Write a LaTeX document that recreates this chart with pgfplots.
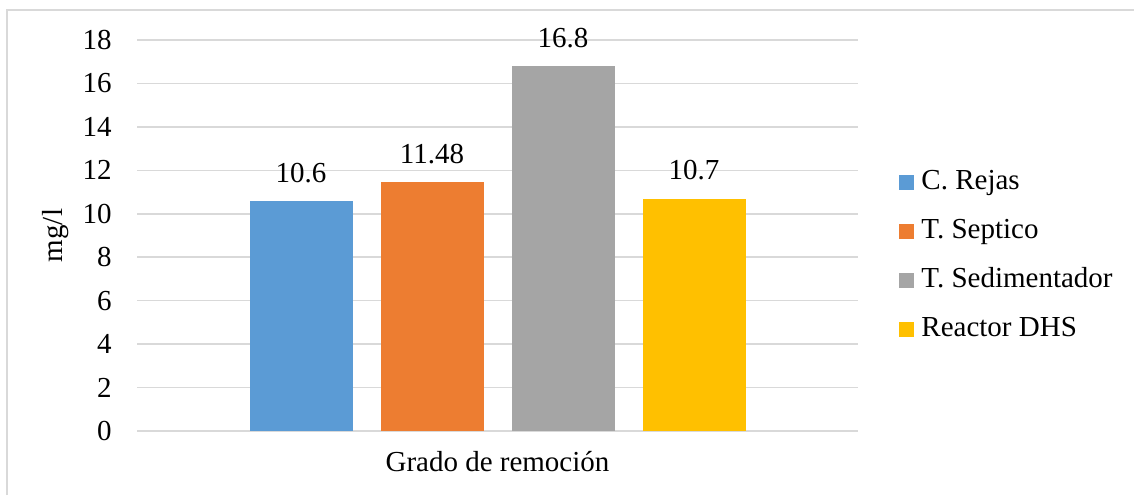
\documentclass[border=0pt]{standalone}
\usepackage{pgfplots}
\pgfplotsset{compat=1.18}
\usepackage{fontspec}
\IfFontExistsTF{LiberationSerif-Regular.ttf}
  {\setmainfont{LiberationSerif-Regular.ttf}[BoldFont=LiberationSerif-Bold.ttf]}
  {\setmainfont{Liberation Serif}}

\definecolor{cblue}{HTML}{5B9BD5}
\definecolor{corange}{HTML}{ED7D31}
\definecolor{cgray}{HTML}{A5A5A5}
\definecolor{cyellow}{HTML}{FFC000}
\definecolor{gridgray}{HTML}{D9D9D9}

\begin{document}
\begin{tikzpicture}[font=\rmfamily\fontsize{14.5}{17}\selectfont]
% page extent and outer frame
\path[use as bounding box] (0,0) rectangle (567pt,247.5pt);
\draw[gridgray, line width=1pt] (3.5pt,0pt) -- (3.5pt,242.5pt) -- (567pt,242.5pt);

\begin{axis}[
  at={(68.5pt,32pt)}, anchor=south west,
  scale only axis,
  width=360.5pt, height=195.5pt,
  ybar=14pt, bar width=51.5pt,
  xmin=-0.5, xmax=0.5,
  ymin=0, ymax=18,
  xtick={0}, xticklabels={Grado de remoción},
  ytick={0,2,...,18},
  ymajorgrids,
  grid style={gridgray, line width=0.75pt},
  axis line style={draw=none},
  tick style={draw=none},
  /pgf/number format/assume math mode=true,
  yticklabel style={inner sep=0pt, xshift=-12.5pt},
  xticklabel style={inner sep=0pt, anchor=north, yshift=-5.5pt},
  ylabel={mg/l},
  ylabel style={at={(axis description cs:-0.094,0.5)}, anchor=south, inner sep=0pt},
  nodes near coords,
  every node near coord/.append style={anchor=south, inner sep=0pt, yshift=8.9pt, text=black},
  legend cell align=left,
  legend image code/.code={\fill[#1] (0pt,-3.75pt) rectangle (7.5pt,3.75pt);},
  legend style={
    draw=none, fill=none,
    at={(axis description cs:1.0486,0.4476)}, anchor=west,
    row sep=11.5pt,
    nodes={inner sep=0pt, text height=10pt, text depth=3pt},
    /tikz/every odd column/.append style={column sep=3.5pt},
  },
]
\addplot[fill=cblue, draw=none, point meta=explicit symbolic] coordinates {(0,10.6) [10.6]};
\addplot[fill=corange, draw=none, point meta=explicit symbolic] coordinates {(0,11.48) [11.48]};
\addplot[fill=cgray, draw=none, point meta=explicit symbolic] coordinates {(0,16.8) [16.8]};
\addplot[fill=cyellow, draw=none, point meta=explicit symbolic] coordinates {(0,10.7) [10.7]};
\legend{C. Rejas, T. Septico, T. Sedimentador, Reactor DHS}
\end{axis}
\end{tikzpicture}
\end{document}
